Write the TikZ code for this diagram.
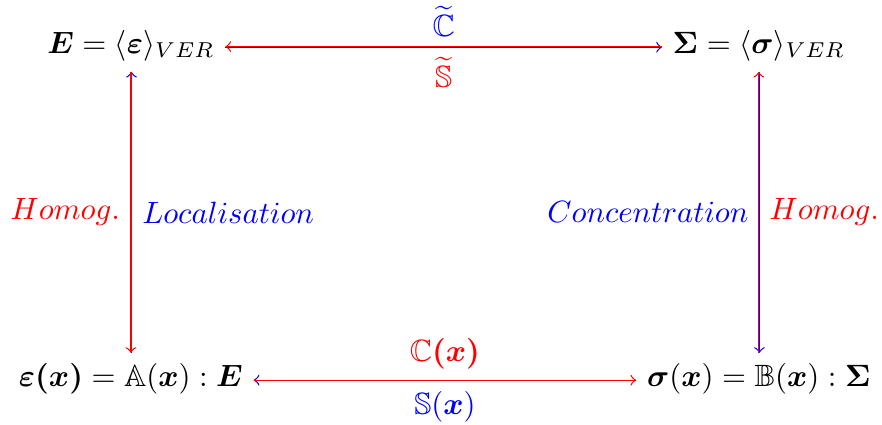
\documentclass[tikz,border=0pt]{standalone}
\usepackage{amsmath,amssymb}
\begin{document}
\begin{tikzpicture}[x=1pt,y=1pt,
  obj/.style={anchor=base, inner sep=3.33pt},
  ar/.style={-to, line width=0.4pt},
  lbl/.style={inner sep=3.33pt}]
\useasboundingbox (0,0) rectangle (286.4,-138);
\node[obj] (E) at (42.5,-17.3) {$\boldsymbol{E} = \langle\boldsymbol{\varepsilon}\rangle_{VER}$};
\node[obj] (S) at (246.4,-17.3) {$\boldsymbol{\Sigma} = \langle\boldsymbol{\sigma}\rangle_{VER}$};
\node[obj] (e) at (42.5,-125.6) {$\boldsymbol{\varepsilon(x)} = \mathbb{A}(\boldsymbol{x}) : \boldsymbol{E}$};
\node[obj] (s) at (246.4,-125.6) {$\boldsymbol{\sigma}(\boldsymbol{x}) = \mathbb{B}(\boldsymbol{x}) : \boldsymbol{\Sigma}$};
% top
\draw[ar, blue] ([yshift=-0.2pt]E.mid east) -- node[lbl, above, blue] {$\widetilde{\mathbb{C}}$} ([yshift=-0.2pt]S.mid west);
\draw[ar, red] (S.mid west) -- node[lbl, below, red] {$\widetilde{\mathbb{S}}$} (E.mid east);
% bottom
\draw[ar, blue] (s.mid west) -- node[lbl, below, blue] {$\mathbb{S}(\boldsymbol{x})$} (e.mid east);
\draw[ar, red] (e.mid east) -- node[lbl, above, red] {$\mathbb{C}\boldsymbol{(x)}$} (s.mid west);
% left
\draw[ar, blue] ([xshift=0.2pt]e.north) -- node[lbl, right, blue] {$Localisation$} ([xshift=0.2pt]E.south);
\draw[ar, red] (E.south) -- node[lbl, left, red] {$Homog.$} (e.north);
% right
\draw[ar, blue] ([xshift=0.2pt]S.south) -- node[lbl, left, blue] {$Concentration$} ([xshift=0.2pt]s.north);
\draw[ar, red] (s.north) -- node[lbl, right, red] {$Homog.$} (S.south);
\end{tikzpicture}
\end{document}
